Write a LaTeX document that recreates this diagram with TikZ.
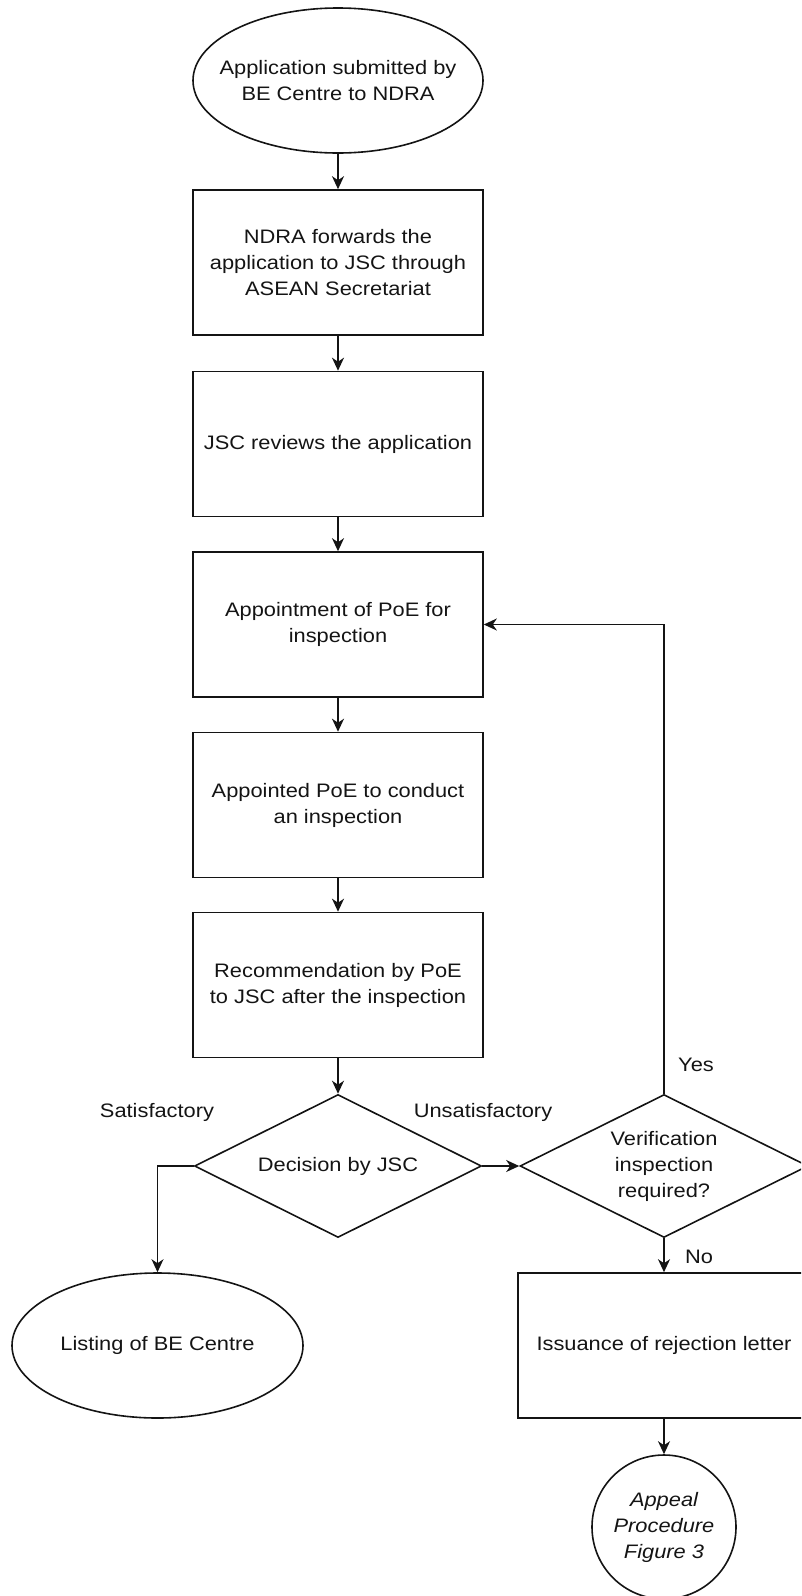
\documentclass[tikz,border=0pt]{standalone}
\usepackage{fontspec}
\setmainfont[FakeStretch=1.12]{Liberation Sans}
\usetikzlibrary{shapes.geometric,arrows.meta}
\begin{document}
\begin{tikzpicture}[x=1pt,y=-1pt,
  every node/.style={font=\fontsize{19.5}{26}\selectfont, text=black!92},
  line/.style={draw=black!92, line width=1.6pt},
  arr/.style={line, -{Stealth[length=13pt,width=12pt,inset=4pt]}},
  box/.style={draw=black!92, line width=1.6pt, rectangle, minimum width=290pt, minimum height=145pt, inner sep=0pt, align=center},
  oval/.style={draw=black!92, line width=1.6pt, ellipse, minimum width=290pt, minimum height=145pt, inner sep=0pt},
  dia/.style={draw=black!92, line width=1.6pt, diamond, minimum width=287pt, minimum height=143pt, inner sep=0pt},
  circ/.style={draw=black!92, line width=1.6pt, circle, minimum size=144pt, inner sep=0pt},
  inlabel/.style={align=center, inner sep=0pt},
  tag/.style={inner sep=0pt}
]
\path[use as bounding box] (0,0) rectangle (801,1596);
\clip (0,0) rectangle (801,1596);

\node[oval, label={[inlabel]center:Application submitted by\\BE Centre to NDRA}] (start) at (338,80.5) {};
\node[box] (b1) at (338,262.5) {NDRA forwards the\\application to JSC through\\ASEAN Secretariat};
\node[box] (b2) at (338,444) {JSC reviews the application};
\node[box] (b3) at (338,624.5) {Appointment of PoE for\\inspection};
\node[box] (b4) at (338,805) {Appointed PoE to conduct\\an inspection};
\node[box] (b5) at (338,985) {Recommendation by PoE\\to JSC after the inspection};
\node[dia, label={[inlabel]center:Decision by JSC}] (dec) at (338,1166) {};
\node[dia, minimum width=288pt, label={[inlabel]center:Verification\\inspection\\required?}] (ver) at (664,1166) {};
\node[oval, minimum width=291pt, label={[inlabel]center:Listing of BE Centre}] (list) at (157.5,1345.5) {};
\node[box, minimum width=292pt] (rej) at (664,1345.5) {Issuance of rejection letter};
\node[circ, label={[inlabel, font=\fontsize{19.5}{26}\selectfont\itshape]center:Appeal\\Procedure\\Figure 3}] (appeal) at (664,1527) {};

\draw[arr] (start) -- (b1);
\draw[arr] (b1) -- (b2);
\draw[arr] (b2) -- (b3);
\draw[arr] (b3) -- (b4);
\draw[arr] (b4) -- (b5);
\draw[arr] (b5) -- (dec);
\draw[arr] (dec.west) -| (list.north);
\draw[arr] (dec.east) -- (ver.west);
\draw[arr] (ver.north) |- (b3.east);
\draw[arr] (ver.south) -- (rej.north);
\draw[arr] (rej.south) -- (appeal.north);

\node[tag] (lsat) at (157,1112) {Satisfactory};
\node[tag] (lunsat) at (483,1112) {Unsatisfactory};
\node[tag] (lyes) at (696,1065) {Yes};
\node[tag] (lno) at (699,1257) {No};
\end{tikzpicture}
\end{document}
